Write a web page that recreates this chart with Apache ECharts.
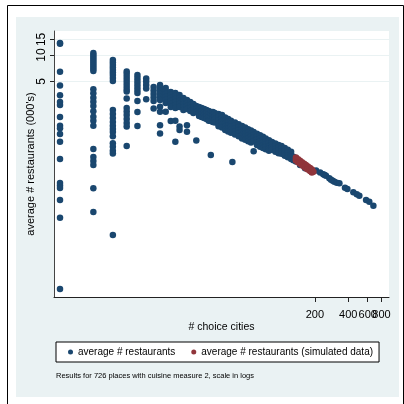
<!DOCTYPE html>
<html>
<head>
<meta charset="utf-8">
<script src="https://cdn.jsdelivr.net/npm/echarts@6/dist/echarts.min.js"></script>
<style>
  html, body { margin: 0; padding: 0; background: #fff; }
  #chart { width: 404px; height: 404px; }
</style>
</head>
<body>
<div id="chart"></div>
<script>
// Number of choice cities for each group of places
const cityCounts = [1, 2, 3, 4, 5, 6, 7, 8, 9, 10, 11, 12, 13, 14, 15, 16, 17, 18, 19, 20,
  21, 22, 23, 24, 25, 27, 29, 31, 33, 35, 36, 38, 41, 44, 47, 50, 53, 56, 60, 64, 68, 72,
  77, 82, 88, 94, 100, 107, 114, 122, 128, 135, 147, 163, 187, 205, 223, 238, 245, 252,
  270, 280, 290, 300, 315, 333, 374, 393, 445, 478, 504, 580, 620, 675];

// Average number of restaurants (000's) for the places at each city count
const avgRestaurants = [
  [13.7, 13.4, 6.46, 4.5, 3.49, 2.93, 2.71, 1.98, 1.58, 1.48, 1.27, 1.04, 0.66, 0.353, 0.331, 0.31, 0.226, 0.143, 0.0222],
  [10.5, 9.98, 9.48, 8.99, 8.54, 8.10, 7.69, 7.30, 6.93, 6.57, 4.08, 3.67, 3.27, 2.95, 2.64, 2.30, 1.99, 1.80, 1.58, 0.858, 0.696, 0.627, 0.565, 0.307, 0.166],
  [8.76, 8.21, 7.69, 7.21, 6.75, 6.32, 5.92, 5.47, 5.06, 2.38, 2.14, 1.93, 1.74, 1.58, 1.45, 1.34, 1.20, 1.00, 0.911, 0.820, 0.763, 0.0908],
  [6.49, 6.08, 5.62, 5.20, 4.81, 4.45, 4.11, 3.85, 3.21, 2.50, 2.28, 2.08, 1.88, 1.69, 1.54, 0.928],
  [5.92, 5.47, 5.06, 4.68, 4.33, 4.00, 3.70, 3.00, 2.25, 1.56],
  [5.40, 5.00, 4.56, 4.16, 3.14],
  [4.33, 3.95, 3.60, 3.29, 3.00, 2.47],
  [4.56, 4.22, 3.90, 3.60, 3.33, 3.08, 2.59, 2.27, 1.60, 1.29],
  [4.22, 3.90, 3.60, 3.33, 3.08, 2.85, 2.27],
  [3.80, 3.51, 3.25, 3.00, 2.78, 2.57, 1.78],
  [3.70, 3.42, 3.16, 2.93, 2.71, 2.50, 1.80, 1.04],
  [3.51, 3.25, 3.00, 2.78, 2.57, 1.54, 1.41],
  [3.25, 3.00, 2.78, 2.57, 2.38],
  [3.08, 2.85, 2.64, 2.44, 1.60, 1.35],
  [2.93, 2.71, 2.50, 2.31],
  [2.78, 2.57, 2.38, 2.20],
  [2.64, 2.44, 2.25, 1.07],
  [2.57, 2.38, 2.20, 2.03],
  [2.50, 2.31, 2.14, 1.98],
  [2.44, 2.25, 2.08, 1.93],
  [2.38, 2.20, 2.03, 1.88],
  [2.31, 2.14, 1.98, 1.80],
  [2.25, 2.08, 1.93, 1.78, 0.733],
  [2.25, 2.08, 1.90, 1.74],
  [2.20, 2.03, 1.88, 1.72],
  [2.14, 1.98, 1.82, 1.65, 1.55],
  [2.08, 1.93, 1.78, 1.62, 1.50],
  [1.95, 1.80, 1.66, 1.52, 1.41],
  [1.88, 1.74, 1.60, 1.48, 1.36],
  [1.80, 1.66, 1.54, 1.42, 1.31],
  [0.611],
  [1.72, 1.59, 1.47, 1.36, 1.25],
  [1.64, 1.52, 1.41, 1.30, 1.20],
  [1.57, 1.45, 1.34, 1.24, 1.13],
  [1.50, 1.39, 1.29, 1.19, 1.09],
  [1.44, 1.33, 1.23, 1.14, 1.05],
  [1.39, 1.28, 1.19, 1.10, 1.02],
  [1.34, 1.24, 1.15, 1.06, 0.81],
  [1.28, 1.19, 1.10, 1.02, 0.95],
  [1.23, 1.14, 1.06, 0.98, 0.91],
  [1.18, 1.09, 1.01, 0.94, 0.88],
  [1.13, 1.05, 0.98, 0.91, 0.85],
  [1.08, 1.00, 0.93, 0.87, 0.82],
  [1.03, 0.96, 0.90, 0.84],
  [0.99, 0.92, 0.86, 0.80],
  [0.95, 0.89, 0.83, 0.77],
  [0.93, 0.87, 0.81, 0.76],
  [0.88, 0.82, 0.77, 0.72],
  [0.84, 0.78, 0.73, 0.69],
  [0.80, 0.74, 0.70, 0.66],
  [0.70, 0.64],
  [0.68, 0.62],
  [0.565],
  [0.518],
  [0.474],
  [0.489],
  [0.464],
  [0.443],
  [0.435],
  [0.427],
  [0.399],
  [0.385],
  [0.375],
  [0.366],
  [0.356],
  [0.350],
  [0.312],
  [0.302],
  [0.277],
  [0.263],
  [0.253],
  [0.226],
  [0.217],
  [0.195]
];

// Simulated data
const simCities = [135, 135, 135, 141, 141, 141, 147, 147, 147, 153, 153, 153, 160, 160, 160,
  166, 166, 166, 173, 173, 173, 181, 181, 181, 188, 188, 188, 194];
const simRestaurants = [0.686, 0.660, 0.634, 0.657, 0.632, 0.607, 0.631, 0.607, 0.583,
  0.608, 0.585, 0.562, 0.584, 0.562, 0.540, 0.564, 0.542, 0.520, 0.543, 0.522, 0.501,
  0.522, 0.502, 0.482, 0.504, 0.485, 0.466, 0.475];

const xTicks = [200, 400, 600, 800];
const yTicks = [5, 10, 15];
const seriesNames = ['average # restaurants', 'average # restaurants (simulated data)'];
const noteText = 'Results for 726 places with cuisine measure 2, scale in logs';

const observed = [];
cityCounts.forEach((c, i) => avgRestaurants[i].forEach(v => observed.push([c, v])));
const simulated = simCities.map((c, i) => [c, simRestaurants[i]]);

// Neighbouring x labels touch each other; split them over two axes sharing
// the same scale so that none of them is dropped by overlap handling.
const xLabelsA = xTicks.filter((v, i) => i % 2 === 0);
const xLabelsB = xTicks.filter((v, i) => i % 2 === 1);

const FONT = '"Liberation Sans", Arial, sans-serif';
const X_MIN = 0.8825, X_MAX = 934;

function xAxisFor(labels, primary) {
  return {
    type: 'log', logBase: 10, min: X_MIN, max: X_MAX, gridIndex: 0,
    position: 'bottom', offset: 0,
    name: primary ? '# choice cities' : '', nameLocation: 'middle', nameGap: 25, nameMoveOverlap: false,
    nameTextStyle: { fontSize: 10.5, color: '#000000', fontFamily: FONT },
    axisLine: { show: primary, lineStyle: { color: '#222222', width: 1 } },
    axisTick: { show: primary, customValues: xTicks, length: 5, lineStyle: { color: '#222222' } },
    axisLabel: { customValues: labels, fontSize: 11, color: '#000000', margin: 12,
      fontFamily: FONT, hideOverlap: false, showMinLabel: true, showMaxLabel: true },
    splitLine: { show: false },
    minorTick: { show: false }
  };
}

const chart = echarts.init(document.getElementById('chart'), null, { renderer: 'canvas' });

chart.setOption({
  animation: false,
  backgroundColor: '#ffffff',
  textStyle: { fontFamily: FONT },
  graphic: [
    { type: 'rect', z: -20, shape: { x: 7.5, y: 5.5, width: 396, height: 410 },
      style: { fill: '#ffffff', stroke: '#000000', lineWidth: 1 } },
    { type: 'rect', z: -19, shape: { x: 16, y: 17, width: 383, height: 380 },
      style: { fill: '#eaf2f3' } },
    { type: 'text', z: 10, left: 56, top: 372,
      style: { text: noteText, fontSize: 7.5, fontFamily: FONT, fill: '#000000' } }
  ],
  grid: {
    left: 54, top: 31, width: 335, height: 266,
    show: true, backgroundColor: '#ffffff', borderWidth: 0
  },
  xAxis: [xAxisFor(xLabelsA, true), xAxisFor(xLabelsB, false)],
  yAxis: {
    type: 'log', logBase: 10, min: 0.018, max: 18.7,
    name: "average # restaurants (000's)", nameLocation: 'middle', nameGap: 18, nameMoveOverlap: false,
    nameTextStyle: { fontSize: 11, color: '#000000', fontFamily: FONT },
    axisLine: { show: true, lineStyle: { color: '#444444', width: 1 } },
    axisTick: { show: true, customValues: yTicks, length: 4, lineStyle: { color: '#222222' } },
    axisLabel: { customValues: yTicks, rotate: 90, fontSize: 12, color: '#000000', margin: 6,
      fontFamily: FONT, hideOverlap: false },
    splitLine: { show: true, lineStyle: { color: '#eaf2f3', width: 1 } },
    minorTick: { show: false }
  },
  legend: {
    left: 56, top: 342,
    data: [
      { name: seriesNames[0], icon: 'circle' },
      { name: seriesNames[1], icon: 'circle' }
    ],
    itemWidth: 5, itemHeight: 5, itemGap: 16,
    padding: [5, 6, 5, 12],
    backgroundColor: '#ffffff', borderColor: '#000000', borderWidth: 1, borderRadius: 0,
    textStyle: { fontSize: 10, color: '#000000', fontFamily: FONT },
    selectedMode: false
  },
  series: [
    {
      name: seriesNames[0], type: 'scatter', data: observed, xAxisIndex: 0,
      symbol: 'circle', symbolSize: 6.5, silent: true, z: 2,
      itemStyle: { color: '#1a476f', opacity: 1 }
    },
    {
      name: seriesNames[1], type: 'scatter', data: simulated, xAxisIndex: 0,
      symbol: 'circle', symbolSize: 6.5, silent: true, z: 3,
      itemStyle: { color: '#90353b', opacity: 1 }
    }
  ]
});
</script>
</body>
</html>
